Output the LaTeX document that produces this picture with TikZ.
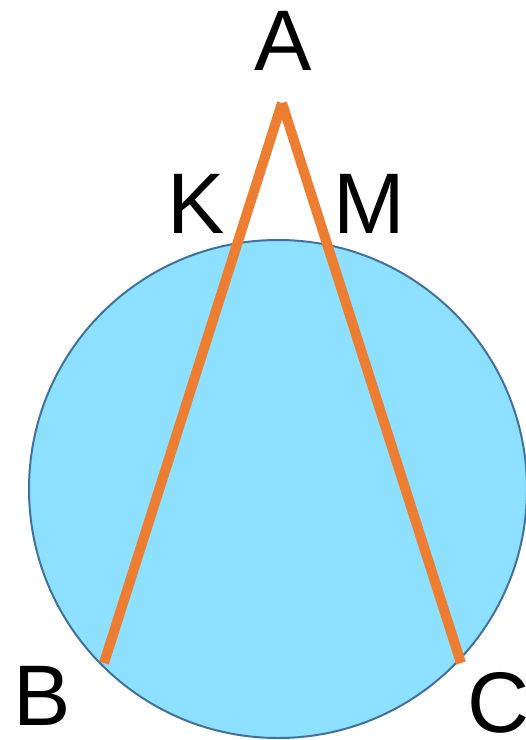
\documentclass[tikz,border=0pt]{standalone}
\usepackage{fontspec}
\setmainfont{Liberation Sans}
\definecolor{fillblue}{HTML}{8DE0FF}
\definecolor{edgeblue}{HTML}{41719C}
\definecolor{orangeline}{HTML}{ED7D31}
\begin{document}
\begin{tikzpicture}[x=1pt,y=-1pt,
  lbl/.style={inner sep=0pt,font=\fontsize{86}{86}\selectfont,text=black},
  side/.style={draw=orangeline,line width=10pt,line cap=butt}]
\useasboundingbox (0,0) rectangle (526,740);
\fill[white] (0,0) rectangle (526,740);
\node[circle,draw=edgeblue,fill=fillblue,line width=2pt,minimum size=498pt,inner sep=0pt] (circ) at (278,489) {};
\coordinate (A) at (282,103);
\coordinate (B) at (104,663);
\coordinate (C) at (461,663);
\draw[side] (B) -- (A);
\draw[side] (A) -- (C);
\node[lbl] (lA) at (283,41) {A};
\node[lbl] (lK) at (196,204) {K};
\node[lbl] (lM) at (369,204) {M};
\node[lbl] (lB) at (42,696) {B};
\node[lbl] (lC) at (499,703) {C};
\end{tikzpicture}
\end{document}
